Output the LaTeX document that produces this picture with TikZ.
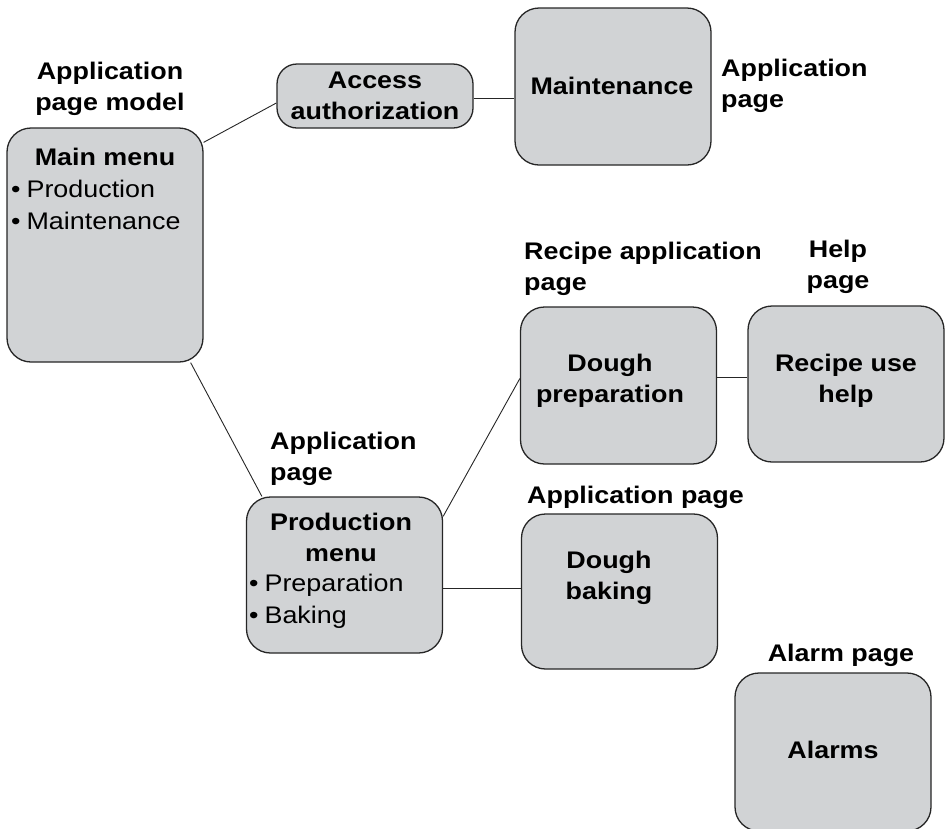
\documentclass[tikz,border=0pt]{standalone}
\usepackage{fontspec}
\setmainfont{Liberation Sans}[FakeStretch=1.12]
\usetikzlibrary{calc}
\definecolor{pagefill}{RGB}{209,211,213}
\newcommand{\itm}[1]{\textbullet\hspace{6pt}#1}

\begin{document}
\begin{tikzpicture}[x=1pt,y=-1pt,
  page/.style={draw=black!85,line width=1.3pt,fill=pagefill,rounded corners=24pt,
    minimum width=196pt,inner sep=0pt},
  ttl/.style={font=\fontsize{24}{31}\selectfont\bfseries,align=center,inner sep=0pt},
  lbl/.style={font=\fontsize{24}{31}\selectfont\bfseries,align=left,inner sep=0pt,anchor=west},
  itms/.style={font=\fontsize{24}{32}\selectfont,align=left,inner sep=0pt,anchor=west},
  link/.style={draw=black!85,line width=0.9pt}]
  \useasboundingbox (0,0) rectangle (945,828);
  % page boxes
  \node[page,minimum height=234pt] (mm) at (105,245) {};
  \node[page,minimum height=64pt,rounded corners=20pt] (acc) at (375,96) {};
  \node[page,minimum height=157pt] (maint) at (613,86.5) {};
  \node[page,minimum height=157pt] (prep) at (618.5,385.5) {};
  \node[page,minimum height=156pt] (help) at (846,384) {};
  \node[page,minimum height=156pt] (prod) at (344.5,575) {};
  \node[page,minimum height=155pt] (bake) at (619.5,591.5) {};
  \node[page,minimum height=158pt] (alarm) at (833,752) {};
  % texts inside the boxes
  \node[ttl] (mm-t) at (105,157) {Main menu};
  \node[itms] (mm-i) at (11,205) {\itm{Production}\\\itm{Maintenance}};
  \node[ttl] (acc-t) at (acc) {Access\\authorization};
  \node[ttl] (maint-t) at (612,86) {Maintenance};
  \node[ttl] (prep-t) at (610,381) {Dough\\preparation};
  \node[ttl] (help-t) at (846,381) {Recipe use\\help};
  \node[ttl] (prod-t) at (341,537) {Production\\menu};
  \node[itms] (prod-i) at (249,601) {\itm{Preparation}\\\itm{Baking}};
  \node[ttl] (bake-t) at (609,578) {Dough\\baking};
  \node[ttl] (alarm-t) at (833,750) {Alarms};
  % page type labels
  \node[ttl] (mm-l) at (110,89) {Application\\page model};
  \node[lbl] (maint-l) at (721,85.5) {Application\\page};
  \node[lbl] (prep-l) at (524,269) {Recipe application\\page};
  \node[ttl] (help-l) at (838,266.5) {Help\\page};
  \node[lbl] (prod-l) at (270,459) {Application\\page};
  \node[lbl] (bake-l) at (527,497) {Application page};
  \node[ttl] (alarm-l) at (841,655) {Alarm page};
  % link end points
  \coordinate (acc-r) at ($(acc.east)+(0,2)$);
  \coordinate (prep-r) at ($(prep.east)+(0,-8)$);
  \coordinate (prod-r) at ($(prod.east)+(0,13)$);
  % links
  \draw[link] ($(mm.north east)+(0,15)$) -- ($(acc.west)+(0,7)$);
  \draw[link] (acc-r) -- (acc-r -| maint.west);
  \draw[link] ($(mm.south east)+(-13,0)$) -- ($(prod.north west)+(16,0)$);
  \draw[link] ($(prod.north east)+(0,20)$) -- ($(prep.west)+(0,-7)$);
  \draw[link] (prep-r) -- (prep-r -| help.west);
  \draw[link] (prod-r) -- (prod-r -| bake.west);
\end{tikzpicture}
\end{document}
